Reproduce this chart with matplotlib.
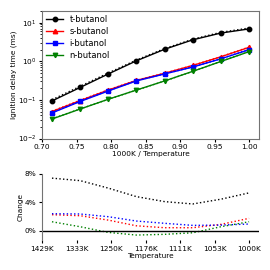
import numpy as np
import matplotlib
matplotlib.use('Agg')
import matplotlib.pyplot as plt
from matplotlib.ticker import FuncFormatter

# 1000/T grid (eight points, 1400 K .. 1000 K)
inv_T = [0.7143, 0.7551, 0.7959, 0.8367, 0.8776, 0.9184, 0.9592, 1.0]

# ignition delay times (ms)
t_butanol = [0.094, 0.21, 0.47, 1.03, 2.05, 3.6, 5.4, 6.9]
s_butanol = [0.050, 0.096, 0.18, 0.32, 0.49, 0.78, 1.31, 2.3]
i_butanol = [0.046, 0.091, 0.17, 0.31, 0.47, 0.71, 1.16, 2.0]
n_butanol = [0.032, 0.058, 0.104, 0.18, 0.31, 0.55, 0.99, 1.78]

# relative change (%)
chg_t = [7.4, 7.05, 6.0, 4.8, 4.1, 3.77, 4.44, 5.33]
chg_s = [2.26, 2.12, 1.5, 0.7, 0.43, 0.43, 0.9, 1.75]
chg_i = [2.4, 2.36, 1.98, 1.37, 1.05, 0.76, 0.8, 0.95]
chg_n = [1.27, 0.57, -0.23, -0.6, -0.5, -0.28, 0.57, 1.27]

xticks = [0.70, 0.75, 0.80, 0.85, 0.90, 0.95, 1.00]

plt.rcParams['font.size'] = 5.3
plt.rcParams['axes.edgecolor'] = '0.45'
plt.rcParams['axes.linewidth'] = 0.8
plt.rcParams['xtick.major.size'] = 2.5
plt.rcParams['ytick.major.size'] = 2.5
plt.rcParams['xtick.minor.size'] = 1.2
plt.rcParams['ytick.minor.size'] = 1.2
plt.rcParams['xtick.major.pad'] = 1.5
plt.rcParams['ytick.major.pad'] = 1.5

fig = plt.figure(figsize=(2.7, 2.7), dpi=100)
ax1 = fig.add_axes([0.156, 0.487, 0.803, 0.472])
ax2 = fig.add_axes([0.156, 0.111, 0.803, 0.245])

series = [
    ('t-butanol', t_butanol, chg_t, 'black', 'o'),
    ('s-butanol', s_butanol, chg_s, 'red', '^'),
    ('i-butanol', i_butanol, chg_i, 'blue', 's'),
    ('n-butanol', n_butanol, chg_n, 'green', 'v'),
]

for name, vals, chg, c, m in series:
    ax1.plot(inv_T, vals, '-', color=c, marker=m, ms=3.2, lw=1.0, label=name)
    ax1.plot(inv_T, np.array(vals) * (1 + np.array(chg) / 100), ':', color=c, lw=1.0)
    ax2.plot(inv_T, chg, ':', color=c, lw=1.0)

ax1.set_yscale('log')
ax1.set_ylim(1e-2, 20)
ax1.set_xticks(xticks)
ax1.set_xlabel('1000K / Temperature', labelpad=1)
ax1.set_ylabel('Ignition delay time (ms)', labelpad=1)
ax1.legend(loc='upper left', frameon=False, fontsize=6, handlelength=2.0,
           labelspacing=0.35, borderaxespad=0.1)

ax2.axhline(0, color='black', lw=1.0)
ax2.set_xlim(ax1.get_xlim())
ax2.set_xticks(xticks)
ax2.xaxis.set_major_formatter(FuncFormatter(lambda v, p: '%dK' % round(1000 / v)))
ax2.set_ylim(-1.3, 8)
ax2.set_yticks([0, 4, 8])
ax2.yaxis.set_major_formatter(FuncFormatter(lambda v, p: '%d%%' % v))
ax2.set_xlabel('Temperature', labelpad=1)
ax2.set_ylabel('Change', labelpad=1)
for s in ['top', 'right', 'bottom']:
    ax2.spines[s].set_visible(False)
ax2.spines['left'].set_bounds(-1.3, 8)

fig.savefig('out.png', dpi=100)
